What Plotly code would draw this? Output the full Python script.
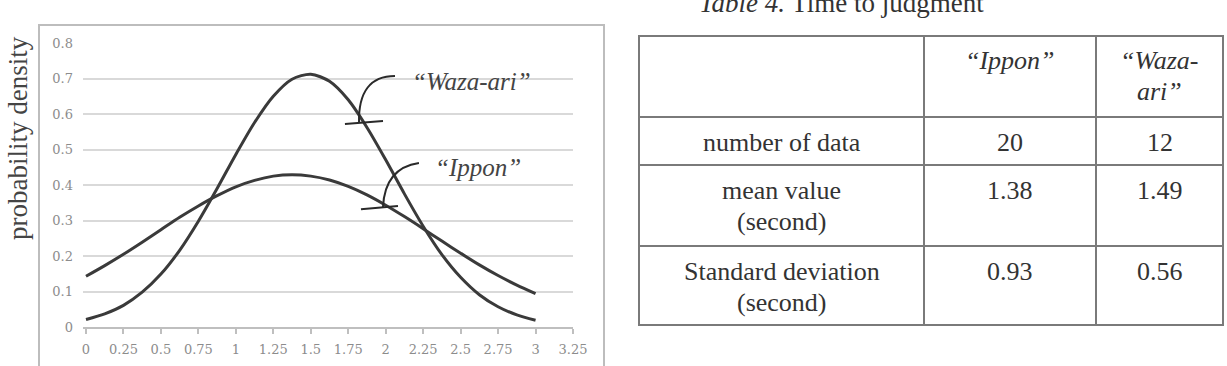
import plotly.graph_objects as go

W, H = 1227, 366

# ---------------- data ----------------
x_vals = [0, 0.125, 0.25, 0.375, 0.5, 0.625, 0.75, 0.875, 1, 1.125, 1.25, 1.375, 1.5,
          1.625, 1.75, 1.875, 2, 2.125, 2.25, 2.375, 2.5, 2.625, 2.75, 2.875, 3]
ippon_density = [0.143, 0.173, 0.205, 0.239, 0.274, 0.309, 0.341, 0.370, 0.395, 0.413, 0.425, 0.429, 0.425,
                 0.414, 0.396, 0.372, 0.343, 0.311, 0.277, 0.242, 0.208, 0.175, 0.145, 0.118, 0.094]
waza_density = [0.021, 0.037, 0.061, 0.098, 0.149, 0.216, 0.298, 0.390, 0.486, 0.576, 0.650, 0.698, 0.712,
                0.692, 0.640, 0.562, 0.471, 0.375, 0.284, 0.204, 0.140, 0.091, 0.057, 0.034, 0.019]

x_ticks = [0, 0.25, 0.5, 0.75, 1, 1.25, 1.5, 1.75, 2, 2.25, 2.5, 2.75, 3, 3.25]
x_tick_labels = ["0", "0.25", "0.5", "0.75", "1", "1.25", "1.5", "1.75", "2", "2.25", "2.5", "2.75", "3", "3.25"]
y_ticks = [0, 0.1, 0.2, 0.3, 0.4, 0.5, 0.6, 0.7, 0.8]
y_tick_labels = ["0", "0.1", "0.2", "0.3", "0.4", "0.5", "0.6", "0.7", "0.8"]

table_title = "<i>Table 4.</i> Time to judgment"
table_header = ["", "<i>“Ippon”</i>", "<i>“Waza-</i><br><i>ari”</i>"]
stat_labels = ["number of data", "mean value<br>(second)", "Standard deviation<br>(second)"]
ippon_stats = [20, 1.38, 0.93]
waza_stats = [12, 1.49, 0.56]

# ---------------- layout constants (pixels) ----------------
col_edges = [639, 924, 1096, 1223]
row_edges = [36, 117, 165, 246, 325]
first_line_offset = 25
line_gap = 31


def px_x(p):
    return p / W


def px_y(p):
    return (H - p) / H


serif = "Liberation Serif"
curve_color = "#3a3a3a"

fig = go.Figure()
for name, ys in [("“Ippon”", ippon_density), ("“Waza-ari”", waza_density)]:
    fig.add_trace(go.Scatter(x=x_vals, y=ys, mode="lines", name=name,
                             line=dict(color=curve_color, width=3, shape="spline", smoothing=0.8),
                             showlegend=False, hoverinfo="skip"))

tick_font = dict(family="DejaVu Serif", size=13, color="#8c8c8c")
fig.update_layout(
    width=W, height=H,
    margin=dict(l=0, r=0, t=0, b=0),
    paper_bgcolor="white", plot_bgcolor="white",
    xaxis=dict(domain=[px_x(83), px_x(573)], range=[-0.02, 3.25],
               tickmode="array", tickvals=x_ticks, ticktext=x_tick_labels,
               showgrid=False, zeroline=False, showline=True, linecolor="#bfbfbf", linewidth=1.5,
               ticks="outside", ticklen=5, tickcolor="#bfbfbf", tickwidth=1.5,
               tickfont=tick_font, ticklabelstandoff=5, automargin=False, fixedrange=True),
    yaxis=dict(domain=[px_y(327), px_y(43)], range=[0, 0.8],
               tickmode="array", tickvals=y_ticks, ticktext=y_tick_labels,
               showgrid=True, gridcolor="#d9d9d9", gridwidth=1.5, zeroline=False, showline=False,
               ticks="", tickfont=tick_font, ticklabelstandoff=9, automargin=False, fixedrange=True),
)

# chart frame
fig.add_shape(type="rect", xref="paper", yref="paper",
              x0=px_x(39), x1=px_x(604), y0=-0.2, y1=px_y(25),
              line=dict(color="#bdbdbd", width=2), layer="below")

# leader lines (curved callouts)
lead = dict(color="#2a2a2a", width=2)
fig.add_shape(type="path", xref="x", yref="y", path="M 2.062,0.707 Q 1.815,0.707 1.822,0.575", line=lead)
fig.add_shape(type="line", xref="x", yref="y", x0=1.728, y0=0.572, x1=1.982, y1=0.580, line=lead)
fig.add_shape(type="path", xref="x", yref="y", path="M 2.222,0.462 Q 1.995,0.448 1.982,0.338", line=lead)
fig.add_shape(type="line", xref="x", yref="y", x0=1.835, y0=0.332, x1=2.082, y1=0.341, line=lead)

label_font = dict(family=serif, size=25, color="#444444")
fig.add_annotation(x=px_x(410), y=px_y(81), xref="paper", yref="paper", xanchor="left", yanchor="middle",
                   text="<i>“Waza-ari”</i>", showarrow=False, font=label_font)
fig.add_annotation(x=px_x(433), y=px_y(168), xref="paper", yref="paper", xanchor="left", yanchor="middle",
                   text="<i>“Ippon”</i>", showarrow=False, font=label_font)

# y-axis title
fig.add_annotation(x=px_x(18), y=px_y(138), xref="paper", yref="paper", xanchor="center", yanchor="middle",
                   text="probability density", textangle=-90, showarrow=False,
                   font=dict(family=serif, size=27, color="#444444"))

# ---------------- table ----------------
grid_line = dict(color="#7a7a7a", width=2)
for yy in row_edges:
    fig.add_shape(type="line", xref="paper", yref="paper",
                  x0=px_x(col_edges[0] - 1), x1=px_x(col_edges[-1] + 1), y0=px_y(yy), y1=px_y(yy), line=grid_line)
for xx in col_edges:
    fig.add_shape(type="line", xref="paper", yref="paper",
                  x0=px_x(xx), x1=px_x(xx), y0=px_y(row_edges[0]), y1=px_y(row_edges[-1]), line=grid_line)

columns = [[table_header[0]] + stat_labels,
           [table_header[1]] + [f"{v:g}" for v in ippon_stats],
           [table_header[2]] + [f"{v:g}" for v in waza_stats]]
cell_font = dict(family=serif, size=26, color="#333333")
for ci, col in enumerate(columns):
    cx = (col_edges[ci] + col_edges[ci + 1]) / 2
    for ri, txt in enumerate(col):
        top = row_edges[ri]
        for li, line in enumerate(txt.split("<br>")):
            if not line:
                continue
            fig.add_annotation(x=px_x(cx), y=px_y(top + first_line_offset + li * line_gap),
                               xref="paper", yref="paper", xanchor="center", yanchor="middle",
                               text=line, showarrow=False, font=cell_font)

# table title
fig.add_annotation(x=px_x(841), y=px_y(20), xref="paper", yref="paper", xanchor="center", yanchor="bottom",
                   text=table_title, showarrow=False,
                   font=dict(family=serif, size=27, color="#333333"))

fig.write_html("out.html", config={"displayModeBar": False})
